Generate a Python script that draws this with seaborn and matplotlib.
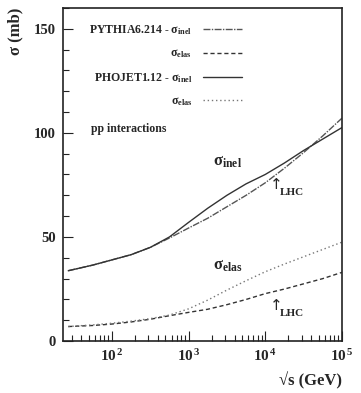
import numpy as np
import pandas as pd
import seaborn as sns
from matplotlib import pyplot as plt
from matplotlib.ticker import FixedLocator, LogLocator, MultipleLocator, NullFormatter

LOG_SQRT_S = [1.43, 1.75, 2.0, 2.25, 2.5, 2.75, 3.0, 3.25, 3.5, 3.75, 4.0, 4.25, 4.5, 4.75, 5.0]

PYTHIA_INEL = [33.8, 36.5, 39.0, 41.5, 45.0, 49.5, 54.3, 59.0, 64.5, 70.0, 76.0, 83.0, 90.5, 98.5, 107.0]
PYTHIA_ELAS = [7.0, 7.5, 8.2, 9.2, 10.5, 12.2, 13.8, 15.3, 17.5, 20.0, 22.8, 25.0, 27.5, 30.0, 33.0]
PHOJET_INEL = [33.8, 36.5, 39.0, 41.5, 45.0, 50.0, 57.0, 63.8, 70.0, 75.5, 80.0, 85.5, 91.5, 97.0, 102.5]
PHOJET_ELAS = [7.0, 7.8, 8.6, 9.6, 10.8, 12.5, 15.5, 19.7, 24.5, 29.0, 33.3, 37.0, 40.5, 44.0, 47.5]

LHC_ENERGY = 14000  # GeV
Y_TICKS = [0, 50, 100, 150]
X_TICKS = [1e2, 1e3, 1e4, 1e5]
X_TICK_LABELS = [r"$\mathbf{10^{\,2}}$", r"$\mathbf{10^{\,3}}$", r"$\mathbf{10^{\,4}}$", r"$\mathbf{10^{\,5}}$"]

SERIES = [
    ("PYTHIA6.214 - σ$_{\\rm inel}$", PYTHIA_INEL, "#555555", (0, (5, 1, 1, 1))),
    ("σ$_{\\rm elas}$ ", PYTHIA_ELAS, "#333333", (0, (3, 2))),
    ("PHOJET1.12 - σ$_{\\rm inel}$", PHOJET_INEL, "#333333", "-"),
    ("σ$_{\\rm elas}$", PHOJET_ELAS, "#777777", (0, (1, 2))),
]


def main():
    sns.set_style("ticks")
    plt.rcParams["font.family"] = ["Liberation Serif", "DejaVu Serif"]
    plt.rcParams["font.weight"] = "bold"
    plt.rcParams["mathtext.fontset"] = "custom"
    plt.rcParams["mathtext.rm"] = "Liberation Serif:bold"
    plt.rcParams["mathtext.bf"] = "Liberation Serif:bold"
    plt.rcParams["mathtext.it"] = "Liberation Serif:bold"

    fig = plt.figure(figsize=(3.61, 3.93), dpi=100)
    ax = fig.add_axes([0.1745, 0.132, 0.7725, 0.848])

    energy = 10 ** np.array(LOG_SQRT_S)
    for label, values, color, ls in SERIES:
        df = pd.DataFrame({"sqrt_s": energy, "sigma": values})
        sns.lineplot(data=df, x="sqrt_s", y="sigma", ax=ax, color=color, linestyle=ls,
                     linewidth=1.0, label=label)

    ax.set_xscale("log")
    ax.set_xlim(23, 1e5)
    ax.set_ylim(0, 160)

    # ticks pointing inwards, left and bottom only
    ax.yaxis.set_major_locator(FixedLocator(Y_TICKS))
    ax.yaxis.set_minor_locator(MultipleLocator(10))
    ax.set_yticklabels([str(t) for t in Y_TICKS], fontsize=10.5, fontweight="bold")
    ax.xaxis.set_major_locator(FixedLocator(X_TICKS))
    ax.xaxis.set_minor_locator(LogLocator(base=10, subs=np.arange(2, 10)))
    ax.xaxis.set_minor_formatter(NullFormatter())
    ax.set_xticklabels(X_TICK_LABELS, fontsize=11)
    ax.tick_params(which="both", direction="in", color="#222222", width=0.8)
    ax.tick_params(which="major", length=7, pad=5)
    ax.tick_params(which="minor", length=4)
    for side in ax.spines.values():
        side.set_visible(True)
        side.set_linewidth(1.2)
        side.set_color("#222222")

    ax.set_ylabel("σ (mb)", fontsize=12, fontweight="bold", loc="top", labelpad=8)
    ax.set_xlabel("√s (GeV)", fontsize=12, fontweight="bold", loc="right", labelpad=6)

    leg = ax.legend(markerfirst=False, frameon=False, loc="upper right",
                    bbox_to_anchor=(0.68, 0.985), fontsize=8.5, handlelength=3.3,
                    handletextpad=0.9, labelspacing=0.88)
    for t in leg.get_texts():
        t.set_fontweight("bold")

    ax.text(53, 102, "pp interactions", fontsize=8.5, fontweight="bold", va="center", ha="left")

    # curve labels and LHC markers
    ax.text(2100, 86, "σ$_{\\rm inel}$", fontsize=12, va="center", ha="left")
    ax.text(2100, 36, "σ$_{\\rm elas}$", fontsize=12, va="center", ha="left")
    for y_arrow in (75, 17):
        ax.text(LHC_ENERGY, y_arrow, "↑", fontsize=11, ha="center", va="center",
                family=["DejaVu Sans"], fontweight="normal")
        ax.text(LHC_ENERGY * 1.12, y_arrow - 3.5, "LHC", fontsize=8, ha="left", va="center")

    fig.savefig("out.png", dpi=100)
    plt.close(fig)


if __name__ == "__main__":

    main()
